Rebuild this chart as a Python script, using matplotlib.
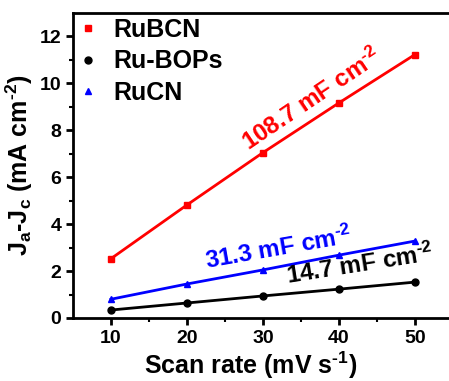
import matplotlib.pyplot as plt

plt.rcParams['font.family'] = ['Liberation Sans', 'DejaVu Sans']
plt.rcParams['font.weight'] = 'bold'
plt.rcParams['mathtext.default'] = 'bf'
plt.rcParams['mathtext.fontset'] = 'custom'
plt.rcParams['mathtext.rm'] = 'Liberation Sans:bold'
plt.rcParams['mathtext.bf'] = 'Liberation Sans:bold'

scan_rate = [10, 20, 30, 40, 50]
rubcn = [2.53, 4.82, 7.05, 9.17, 11.23]
ru_bops = [0.34, 0.64, 0.94, 1.23, 1.53]
rucn = [0.80, 1.45, 2.05, 2.68, 3.28]

labels = ['RuBCN', 'Ru-BOPs', 'RuCN']
cdl = ['108.7', '14.7', '31.3']
unit = ' mF cm$^{\\text{-}2}$'

fig = plt.figure(figsize=(4.49, 3.81), dpi=100)
ax = fig.add_axes([73 / 449, 63 / 381, 380 / 449, 305 / 381])

ax.plot(scan_rate, rubcn, color='#ff0000', marker='s', ms=5, lw=2, label=labels[0])
ax.plot(scan_rate, ru_bops, color='black', marker='o', ms=5, lw=2, label=labels[1])
ax.plot(scan_rate, rucn, color='#0000ff', marker='^', ms=5, lw=2, label=labels[2])

ax.set_xlim(5, 55)
ax.set_ylim(0, 13)
ax.set_xticks([10, 20, 30, 40, 50])
ax.set_xticks([15, 25, 35, 45], minor=True)
ax.set_yticks([0, 2, 4, 6, 8, 10, 12])
ax.set_yticks([1, 3, 5, 7, 9, 11], minor=True)
ax.tick_params(which='major', direction='out', length=5, width=2, labelsize=14)
ax.tick_params(which='minor', direction='out', length=3, width=1.5)
for s in ax.spines.values():
    s.set_linewidth(2)

ax.set_xlabel('Scan rate (mV s$^{\\text{-}1}$)', fontsize=18, fontweight='bold')
ax.xaxis.set_label_coords(0.468, -0.105)
ax.set_ylabel('J$_a$-J$_c$ (mA cm$^{\\text{-}2}$)', fontsize=18, fontweight='bold', labelpad=3)

leg = ax.legend(loc='upper left', bbox_to_anchor=(0.0, 1.0), frameon=False,
                fontsize=18, handlelength=0.8, handletextpad=0.6,
                borderaxespad=0.0, borderpad=0.2, labelspacing=0.3, numpoints=1)
for h in leg.legend_handles:
    h.set_linestyle('none')

# capacitance labels along each fit line
ax.text(36.4, 9.3, cdl[0] + unit, color='#ff0000', fontsize=17.5,
        fontweight='bold', rotation=34, ha='center', va='center')
ax.text(32.0, 2.98, cdl[2] + unit, color='#0000ff', fontsize=17.5,
        fontweight='bold', rotation=10, ha='center', va='center')
ax.text(42.8, 2.26, cdl[1] + unit, color='black', fontsize=17.5,
        fontweight='bold', rotation=9, ha='center', va='center')

fig.savefig('out.png', dpi=100)
